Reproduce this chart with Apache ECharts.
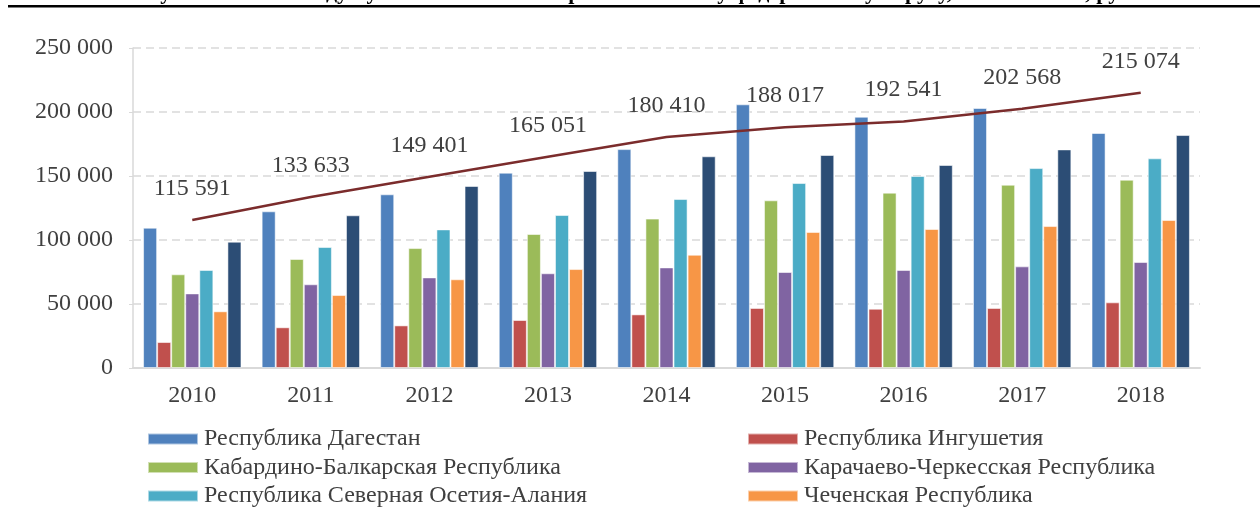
<!DOCTYPE html>
<html>
<head>
<meta charset="utf-8">
<script src="https://cdn.jsdelivr.net/npm/echarts@6/dist/echarts.min.js"></script>
<style>
  html, body { margin: 0; padding: 0; background: #fff; }
  #chart { width: 1260px; height: 507px; }
</style>
</head>
<body>
<div id="chart"></div>
<script>
const years = ['2010', '2011', '2012', '2013', '2014', '2015', '2016', '2017', '2018'];

const dagestan = [109600, 122400, 135700, 152600, 171000, 206000, 196300, 203100, 183600];
const ingushetia = [20300, 31800, 33300, 37500, 41900, 46900, 46300, 46900, 51300];
const kbr = [73200, 85200, 93700, 104700, 116700, 131000, 137000, 143200, 147100];
const kchr = [58300, 65400, 70800, 74000, 78600, 75000, 76600, 79400, 82800];
const ossetia = [76600, 94500, 108300, 119500, 132000, 144500, 150000, 156200, 163800];
const chechnya = [44300, 57000, 69300, 77300, 88500, 106300, 108600, 110900, 115600];
const stavropol = [98700, 119300, 142200, 153900, 165400, 166400, 158600, 170800, 182000];
const district = [115591, 133633, 149401, 165051, 180410, 188017, 192541, 202568, 215074];

const names = [
  'Республика Дагестан',
  'Республика Ингушетия',
  'Кабардино-Балкарская Республика',
  'Карачаево-Черкесская Республика',
  'Республика Северная Осетия-Алания',
  'Чеченская Республика',
  'Ставропольский край'
];
const colors = ['#4F81BD', '#C0504D', '#9BBB59', '#8064A2', '#4BACC6', '#F79646', '#2C4D75'];
const barData = [dagestan, ingushetia, kbr, kchr, ossetia, chechnya, stavropol];

const FONT = '"Liberation Serif", "Times New Roman", serif';
const TEXT = '#404040';

const chart = echarts.init(document.getElementById('chart'), null, { renderer: 'canvas' });

function fmt(v) {
  return String(v).replace(/\B(?=(\d{3})+(?!\d))/g, ' ');
}

// two columns, rows 28.5px apart; the 4th row (Ставропольский край) is cut off in the original
const legends = names.slice(0, 6).map((name, i) => ({
  orient: 'horizontal',
  left: i % 2 === 0 ? 147 : 747,
  top: 427 + Math.floor(i / 2) * 28.5,
  padding: 0,
  itemWidth: 50,
  itemHeight: 11,
  icon: 'rect',
  textStyle: { fontFamily: FONT, fontSize: 24, color: TEXT, lineHeight: 23, padding: [0, 0, 0, 1] },
  selectedMode: false,
  data: [name]
}));

chart.setOption({
  animation: false,
  backgroundColor: '#fff',
  title: {
    text: 'Рисунок 1 – ВРП на душу населения по Северо-Кавказскому федеральному округу, 2010–2018 гг., руб.',
    left: 'center',
    top: -23,
    textStyle: { fontFamily: FONT, fontSize: 22, fontWeight: 'bold', color: '#000' }
  },
  graphic: [{
    type: 'rect',
    shape: { x: 8, y: 5, width: 1252, height: 2.5 },
    style: { fill: '#000' },
    silent: true
  }],
  grid: { left: 133, right: 60, top: 48, bottom: 139 },
  legend: legends,
  xAxis: {
    type: 'category',
    data: years,
    axisLine: { lineStyle: { color: '#d9d9d9', width: 2 } },
    axisTick: { show: false },
    axisLabel: { fontFamily: FONT, fontSize: 24, color: TEXT, margin: 16 }
  },
  yAxis: {
    type: 'value',
    min: 0,
    max: 250000,
    interval: 50000,
    axisLine: { show: true, lineStyle: { color: '#d9d9d9', width: 1.5 } },
    axisTick: { show: true, length: 4, lineStyle: { color: '#d9d9d9' } },
    axisLabel: { fontFamily: FONT, fontSize: 24, color: TEXT, margin: 20, formatter: fmt },
    splitLine: { lineStyle: { color: '#d9d9d9', width: 1.5, type: [8, 5] } }
  },
  series: barData.map((d, i) => ({
    name: names[i],
    type: 'bar',
    data: d,
    barGap: '0%',
    barCategoryGap: '17%',
    itemStyle: { color: colors[i], borderColor: 'rgba(255,255,255,0.55)', borderWidth: 1 }
  })).concat([{
    name: 'СКФО',
    type: 'line',
    data: district,
    symbol: 'circle',
    symbolSize: 1,
    showSymbol: true,
    itemStyle: { color: 'rgba(123,44,44,0)', borderWidth: 0 },
    z: 5,
    lineStyle: { color: '#7B2C2C', width: 2.5 },
    label: {
      show: true,
      position: 'top',
      distance: 19,
      fontFamily: FONT,
      fontSize: 24,
      color: TEXT,
      formatter: (p) => fmt(p.value)
    },
    labelLayout: { hideOverlap: false }
  }])
});
</script>
</body>
</html>
